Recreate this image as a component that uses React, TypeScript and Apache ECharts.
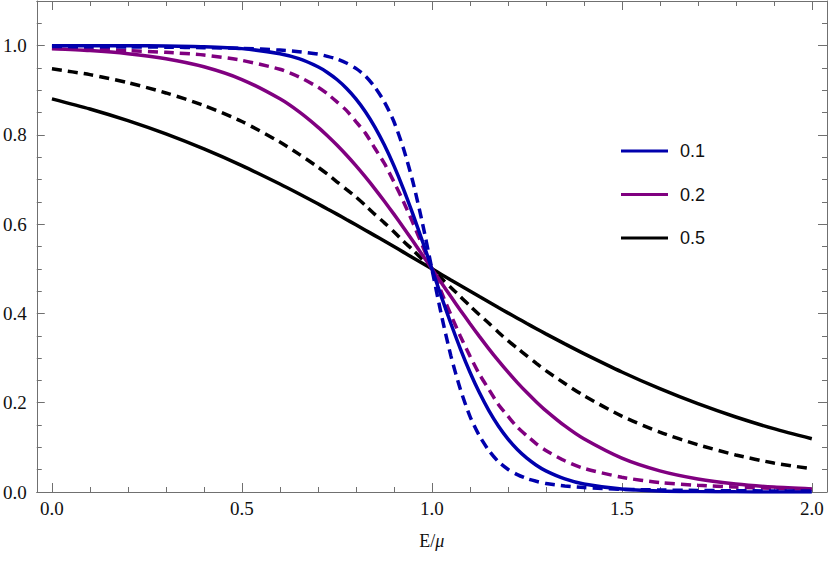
import React, { useEffect, useRef } from "react";
import * as echarts from "echarts";

// Energy grid E/μ
const E = [
  0, 0.1, 0.2, 0.3, 0.4, 0.5, 0.6, 0.65, 0.7, 0.725, 0.75, 0.775, 0.8, 0.825, 0.85, 0.875, 0.9, 0.925, 0.95, 0.975,
  1.0, 1.025, 1.05, 1.075, 1.1, 1.125, 1.15, 1.175, 1.2, 1.225, 1.25, 1.275, 1.3, 1.35, 1.4, 1.5, 1.6, 1.7, 1.8, 1.9, 2.0,
];

const blueSolid = [
  1.0, 0.9999, 0.9997, 0.9991, 0.9975, 0.9933, 0.982, 0.9707, 0.9526, 0.9399, 0.9241, 0.9047, 0.8808, 0.852, 0.8176, 0.7773, 0.7311, 0.6792, 0.6225, 0.5622,
  0.5, 0.4378, 0.3775, 0.3208, 0.2689, 0.2227, 0.1824, 0.148, 0.1192, 0.0953, 0.0759, 0.0601, 0.0474, 0.0293, 0.018, 0.0067, 0.0025, 0.0009, 0.0003, 0.0001, 0.0,
];
const blueDashed = [
  0.998, 0.9976, 0.9972, 0.9965, 0.9955, 0.994, 0.99, 0.9865, 0.981, 0.976, 0.97, 0.961, 0.949, 0.932, 0.907, 0.874, 0.83, 0.77, 0.695, 0.603,
  0.5, 0.397, 0.305, 0.23, 0.17, 0.126, 0.093, 0.068, 0.051, 0.039, 0.03, 0.024, 0.019, 0.0135, 0.01, 0.006, 0.0045, 0.0035, 0.0028, 0.0024, 0.002,
];
const purpleSolid = [
  0.9933, 0.989, 0.982, 0.9707, 0.9526, 0.9241, 0.8808, 0.852, 0.8176, 0.7982, 0.7773, 0.7549, 0.7311, 0.7058, 0.6792, 0.6513, 0.6225, 0.5927, 0.5622, 0.5312,
  0.5, 0.4688, 0.4378, 0.4073, 0.3775, 0.3487, 0.3208, 0.2942, 0.2689, 0.2451, 0.2227, 0.2018, 0.1824, 0.148, 0.1192, 0.0759, 0.0474, 0.0293, 0.018, 0.011, 0.0067,
];
const purpleDashed = [
  0.994, 0.992, 0.989, 0.985, 0.979, 0.967, 0.947, 0.93, 0.907, 0.892, 0.874, 0.855, 0.83, 0.804, 0.77, 0.736, 0.695, 0.651, 0.603, 0.552,
  0.5, 0.448, 0.397, 0.349, 0.305, 0.264, 0.23, 0.196, 0.17, 0.145, 0.126, 0.108, 0.093, 0.07, 0.053, 0.033, 0.021, 0.015, 0.011, 0.008, 0.006,
];
const blackSolid = [
  0.8808, 0.8581, 0.832, 0.8022, 0.7685, 0.7311, 0.69, 0.6682, 0.6457, 0.6341, 0.6225, 0.6106, 0.5987, 0.5866, 0.5744, 0.5622, 0.5498, 0.5374, 0.525, 0.5125,
  0.5, 0.4875, 0.475, 0.4626, 0.4502, 0.4378, 0.4256, 0.4134, 0.4013, 0.3894, 0.3775, 0.3659, 0.3543, 0.3318, 0.31, 0.2689, 0.2315, 0.1978, 0.168, 0.1419, 0.1192,
];
const blackDashed = [
  0.948, 0.935, 0.917, 0.894, 0.866, 0.83, 0.784, 0.757, 0.728, 0.712, 0.695, 0.678, 0.661, 0.642, 0.622, 0.603, 0.583, 0.562, 0.542, 0.521,
  0.5, 0.479, 0.458, 0.438, 0.417, 0.397, 0.378, 0.358, 0.339, 0.322, 0.305, 0.288, 0.272, 0.243, 0.216, 0.17, 0.134, 0.106, 0.083, 0.065, 0.052,
];

const legendNames = ["0.1", "0.2", "0.5"];

const xMajorTicks = [0, 0.5, 1.0, 1.5, 2.0];
const xMinorTicks = [0.1, 0.2, 0.3, 0.4, 0.6, 0.7, 0.8, 0.9, 1.1, 1.2, 1.3, 1.4, 1.6, 1.7, 1.8, 1.9];
const yMajorTicks = [0, 0.2, 0.4, 0.6, 0.8, 1.0];
const yMinorTicks = [0.05, 0.1, 0.15, 0.25, 0.3, 0.35, 0.45, 0.5, 0.55, 0.65, 0.7, 0.75, 0.85, 0.9, 0.95, 1.05];

const BLUE = "#0000AD";
const PURPLE = "#800080";
const BLACK = "#000000";
const AXIS = "#707070";
const SERIF = "Times New Roman, Liberation Serif, DejaVu Serif, serif";
const SANS = "Arial, Liberation Sans, sans-serif";

const X_MIN = -0.04;
const X_MAX = 2.04;
const Y_MIN = 0;
const Y_MAX = 1.1;

function xAxisDef(position: string, ticks: number[], len: number, showLine: boolean, showLabel: boolean, extra: any = {}) {
  return {
    type: "value",
    min: X_MIN,
    max: X_MAX,
    position,
    axisLine: { show: showLine, onZero: false, lineStyle: { color: AXIS, width: 1 } },
    axisTick: { show: true, inside: true, length: len, customValues: ticks, lineStyle: { color: AXIS, width: 1 } },
    axisLabel: {
      show: showLabel,
      customValues: ticks,
      formatter: (v: number) => v.toFixed(1),
      margin: 7,
      fontFamily: SERIF,
      fontSize: 19,
      color: "#111",
    },
    splitLine: { show: false },
    ...extra,
  };
}

function yAxisDef(position: string, ticks: number[], len: number, showLine: boolean, showLabel: boolean) {
  return {
    type: "value",
    min: Y_MIN,
    max: Y_MAX,
    position,
    axisLine: { show: showLine, onZero: false, lineStyle: { color: AXIS, width: 1 } },
    axisTick: { show: true, inside: true, length: len, customValues: ticks, lineStyle: { color: AXIS, width: 1 } },
    axisLabel: {
      show: showLabel,
      customValues: ticks,
      formatter: (v: number) => v.toFixed(1),
      margin: 10,
      fontFamily: SERIF,
      fontSize: 19,
      color: "#111",
    },
    splitLine: { show: false },
  };
}

function lineSeries(name: string, values: number[], color: string, dashed: boolean) {
  return {
    name,
    type: "line",
    xAxisIndex: 0,
    yAxisIndex: 0,
    data: E.map((x, i) => [x, values[i]]),
    showSymbol: false,
    symbol: "none",
    smooth: 0.25,
    color,
    lineStyle: { color, width: 3.5, type: dashed ? [10, 6] : "solid", cap: "butt" },
    emphasis: { disabled: true },
  };
}

export default function App() {
  const ref = useRef<HTMLDivElement>(null);

  useEffect(() => {
    if (!ref.current) return;
    const chart = echarts.init(ref.current, null, { renderer: "svg" });
    chart.setOption({
      animation: false,
      backgroundColor: "#ffffff",
      textStyle: { fontFamily: SERIF },
      grid: { left: 33, right: 3, top: 1, bottom: 77, containLabel: false },
      legend: {
        data: legendNames,
        orient: "vertical",
        left: 621,
        top: 141,
        padding: 0,
        icon: "rect",
        itemWidth: 47,
        itemHeight: 3,
        itemGap: 23.5,
        selectedMode: false,
        textStyle: { fontFamily: SANS, fontSize: 18, color: "#111", lineHeight: 20, padding: [0, 0, 0, 7] },
      },
      xAxis: [
        xAxisDef("bottom", xMajorTicks, 9, true, true, {
          name: "{a|E/}{b|μ}",
          nameLocation: "middle",
          nameGap: 40,
          nameTextStyle: {
            fontFamily: SERIF,
            rich: {
              a: { fontFamily: SERIF, fontSize: 18, color: "#111" },
              b: { fontFamily: SERIF, fontSize: 18, fontStyle: "italic", color: "#111" },
            },
          },
        }),
        xAxisDef("bottom", xMinorTicks, 5, false, false),
        xAxisDef("top", xMajorTicks, 9, true, false),
        xAxisDef("top", xMinorTicks, 5, false, false),
      ],
      yAxis: [
        yAxisDef("left", yMajorTicks, 8, true, true),
        yAxisDef("left", yMinorTicks, 5, false, false),
        yAxisDef("right", yMajorTicks, 9, true, false),
        yAxisDef("right", yMinorTicks, 5, false, false),
      ],
      series: [
        lineSeries("0.5 dashed", blackDashed, BLACK, true),
        lineSeries("0.5", blackSolid, BLACK, false),
        lineSeries("0.2 dashed", purpleDashed, PURPLE, true),
        lineSeries("0.2", purpleSolid, PURPLE, false),
        lineSeries("0.1 dashed", blueDashed, BLUE, true),
        lineSeries("0.1", blueSolid, BLUE, false),
      ],
    });
    return () => chart.dispose();
  }, []);

  return (
    <div
      ref={ref}
      style={{ position: "absolute", left: 0, top: 0, width: 830, height: 569, background: "#fff" }}
    />
  );
}
